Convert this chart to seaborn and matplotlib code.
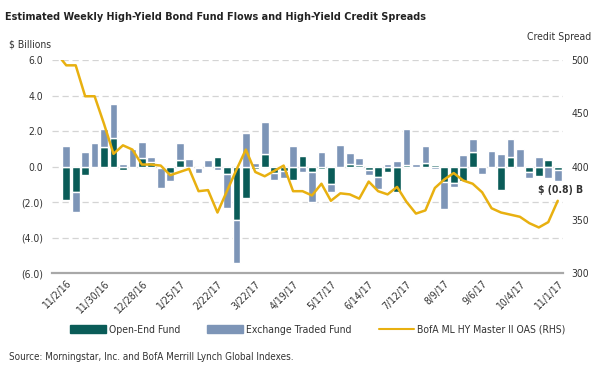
import numpy as np
import pandas as pd
import matplotlib
matplotlib.use("Agg")
import matplotlib.pyplot as plt
from matplotlib import font_manager
from matplotlib.patches import Patch
from matplotlib.lines import Line2D
import seaborn as sns

# ----------------------------------------------------------
# DATA
# ----------------------------------------------------------
weeks = [
    "10/26/16", "11/2/16", "11/9/16", "11/16/16", "11/23/16", "11/30/16",
    "12/7/16", "12/14/16", "12/21/16", "12/28/16", "1/4/17", "1/11/17",
    "1/18/17", "1/25/17", "2/1/17", "2/8/17", "2/15/17", "2/22/17",
    "3/1/17", "3/8/17", "3/15/17", "3/22/17", "3/29/17", "4/5/17",
    "4/12/17", "4/19/17", "4/26/17", "5/3/17", "5/10/17", "5/17/17",
    "5/24/17", "5/31/17", "6/7/17", "6/14/17", "6/21/17", "6/28/17",
    "7/5/17", "7/12/17", "7/19/17", "7/26/17", "8/2/17", "8/9/17",
    "8/16/17", "8/23/17", "8/30/17", "9/6/17", "9/13/17", "9/20/17",
    "9/27/17", "10/4/17", "10/11/17", "10/18/17", "10/25/17", "11/1/17",
]

open_end = [
    np.nan, -1.9, -1.45, -0.45, -0.05, 1.1, 1.6, -0.2, -0.1, 0.5,
    0.25, -0.05, -0.35, 0.4, -0.05, -0.05, -0.05, 0.55, -0.4, -3.0,
    -1.75, -0.15, 0.7, -0.35, -0.25, -0.75, 0.6, -0.3, -0.15, -0.95,
    -0.1, 0.15, 0.08, -0.2, -0.6, -0.3, -1.45, 0.1, -0.1, 0.2,
    0.1, -0.85, -0.9, -0.8, 0.8, 0.05, -0.1, -1.3, 0.55, -0.1,
    -0.3, -0.55, 0.35, -0.2,
]

etf = [
    np.nan, 1.15, -1.1, 0.8, 1.35, 1.0, 1.95, 0.15, 1.0, 0.9,
    0.3, -1.15, -0.45, 0.95, 0.45, -0.3, 0.4, -0.2, -1.95, -2.4,
    1.9, 0.2, 1.8, -0.4, -0.4, 1.15, -0.3, -1.7, 0.85, -0.5,
    1.2, 0.6, 0.4, -0.25, -0.65, 0.15, 0.3, 2.0, 0.15, 0.95,
    -0.15, -1.55, -0.25, 0.65, 0.75, -0.4, 0.9, 0.7, 1.0, 1.0,
    -0.35, 0.55, -0.65, -0.6,
]

oas = [
    506, 495, 495, 466, 466, 440, 412, 420, 416, 402,
    402, 401, 392, 395, 398, 377, 378, 357, 377, 397,
    416, 395, 391, 396, 401, 377, 377, 373, 384, 368,
    375, 374, 370, 386, 377, 374, 381, 367, 356, 359,
    380, 388, 394, 387, 384, 376, 361, 357, 355, 353,
    347, 343, 348, 368,
]

tick_labels = ["11/2/16", "11/30/16", "12/28/16", "1/25/17", "2/22/17",
               "3/22/17", "4/19/17", "5/17/17", "6/14/17", "7/12/17",
               "8/9/17", "9/6/17", "10/4/17", "11/1/17"]

df = pd.DataFrame({"week": weeks, "open_end": open_end,
                   "etf": etf, "oas": oas})
df["pos"] = np.arange(len(df))

# ETF stacks on top of open-end flows when both have the same sign
etf_bottom = np.where(np.sign(df["etf"]) == np.sign(df["open_end"]),
                      df["open_end"], 0.0)


# ----------------------------------------------------------
# FONT: prefer a narrow face, like the original
# ----------------------------------------------------------
def pick_font():
    for fam, stretch in [("Liberation Sans Narrow", "normal"),
                         ("DejaVu Sans", "condensed"),
                         ("Roboto Condensed", "normal"),
                         ("Open Sans Condensed", "normal")]:
        try:
            path = font_manager.findfont(
                font_manager.FontProperties(family=fam, stretch=stretch),
                fallback_to_default=False)
        except Exception:
            continue
        if stretch == "condensed" and "ondensed" not in path:
            continue
        return fam, stretch
    return "DejaVu Sans", "normal"


FAM, STRETCH = pick_font()
NARROW = FAM != "DejaVu Sans" or STRETCH == "condensed"

sns.set_style("white")
plt.rcParams["font.family"] = [FAM, "DejaVu Sans"]
plt.rcParams["font.stretch"] = STRETCH

fs = 7.5 if NARROW else 6.7

DARK = "#0A5C58"
LIGHT = "#7D95B7"
GOLD = "#E8B010"
TXT = "#333333"

fig = plt.figure(figsize=(6, 3.69), dpi=100)
ax = fig.add_axes([0.086, 0.2593, 0.853, 0.5781])

# ----------------------------------------------------------
# BARS
# ----------------------------------------------------------
sns.barplot(data=df, x="pos", y="open_end", native_scale=True,
            color=DARK, saturation=1, errorbar=None, width=0.82,
            ax=ax, zorder=3)
ax.bar(df["pos"], df["etf"], bottom=etf_bottom, width=0.82,
       color=LIGHT, zorder=3)

ax.set_xlim(-0.55, 53.6)
ax.set_ylim(-6, 6)
ax.set_yticks(np.arange(-6, 7, 2))
ax.set_yticklabels([f"({abs(v):.1f})" if v < 0 else f"{v:.1f}"
                    for v in np.arange(-6, 7, 2)])
ax.set_xticks(df["pos"][1::4])
ax.set_xticklabels(tick_labels, rotation=45, ha="right",
                   rotation_mode="anchor")
ax.set_xlabel("")
ax.set_ylabel("")
ax.tick_params(axis="both", length=0, labelsize=fs, colors=TXT)
ax.tick_params(axis="y", pad=6)
ax.tick_params(axis="x", pad=4)

for y in np.arange(-4, 7, 2):
    ax.axhline(y, color="#D4D4D4", lw=0.9, ls=(0, (5, 3)), zorder=0)

for s in ["top", "left", "right"]:
    ax.spines[s].set_visible(False)
ax.spines["bottom"].set_color("#A8A8A8")
ax.spines["bottom"].set_linewidth(1.6)

ax.text(53.3, -1.3, "$ (0.8) B", ha="center", va="center",
        fontsize=fs, fontweight="bold", color=TXT, clip_on=False,
        zorder=6)

# ----------------------------------------------------------
# CREDIT SPREAD LINE (RHS)
# ----------------------------------------------------------
ax2 = ax.twinx()
sns.lineplot(data=df, x="pos", y="oas", ax=ax2, color=GOLD, lw=1.8)
ax2.set_ylim(300, 500)
ax2.set_yticks([300, 350, 400, 450, 500])
ax2.set_ylabel("")
ax2.tick_params(axis="y", length=0, labelsize=fs, colors=TXT, pad=6)
for s in ["top", "left", "right", "bottom"]:
    ax2.spines[s].set_visible(False)

# ----------------------------------------------------------
# TEXT + LEGEND
# ----------------------------------------------------------
title = fig.text(0.008, 0.955, "Estimated Weekly High-Yield Bond Fund "
                 "Flows and High-Yield Credit Spreads", fontsize=10,
                 fontweight="bold", color="#222222", va="center")
# size the title so it spans roughly the width of the original
renderer = fig.canvas.get_renderer()
w = title.get_window_extent(renderer).width
title.set_fontsize(min(10.5, 10 * (415 if NARROW else 480) / w))

fig.text(0.015, 0.88, "$ Billions", fontsize=fs, color=TXT, va="center")
fig.text(0.985, 0.9, "Credit Spread", fontsize=fs, color=TXT,
         va="center", ha="right")
fig.text(0.015, 0.032, "Source: Morningstar, Inc. and BofA Merrill Lynch "
         "Global Indexes.", fontsize=fs - 0.4, color=TXT, va="center")

handles = [Patch(color=DARK, label="Open-End Fund"),
           Patch(color=LIGHT, label="Exchange Traded Fund"),
           Line2D([], [], color=GOLD, lw=1.5,
                  label="BofA ML HY Master II OAS (RHS)")]
fig.legend(handles=handles, loc="center", bbox_to_anchor=(0.53, 0.107),
           ncol=3, frameon=False, fontsize=fs, handlelength=3.4,
           handleheight=0.9, columnspacing=2.6, handletextpad=0.3,
           labelcolor=TXT)

fig.savefig("out.png", dpi=100)
